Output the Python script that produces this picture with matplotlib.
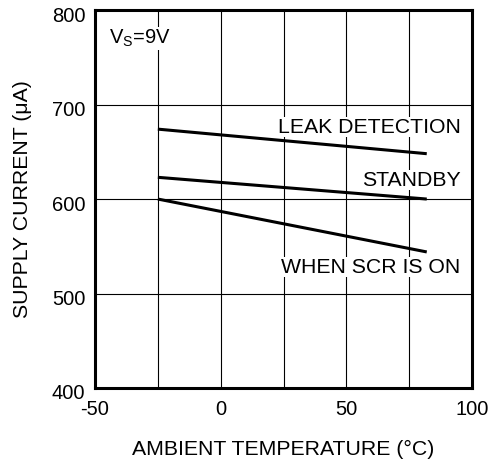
import matplotlib
matplotlib.use('Agg')
import matplotlib.pyplot as plt
from matplotlib.transforms import ScaledTranslation

plt.rcParams['font.family'] = ['Liberation Sans', 'DejaVu Sans']
plt.rcParams['axes.unicode_minus'] = False

temps = [-25, 82]
leak_detection = [674, 648]
standby = [623, 600]
scr_on = [600, 544]

fs = 14.5
fs_lab = 15.3

fig = plt.figure(figsize=(4.91, 4.59), dpi=100)
ax = fig.add_axes([0.1935, 0.1547, 0.7678, 0.8233])

ax.plot(temps, leak_detection, color='black', linewidth=2.2, solid_capstyle='butt')
ax.plot(temps, standby, color='black', linewidth=2.2, solid_capstyle='butt')
ax.plot(temps, scr_on, color='black', linewidth=2.2, solid_capstyle='butt')

ax.set_xlim(-50, 100)
ax.set_ylim(400, 800)
ax.set_xticks([-50, 0, 50, 100])
ax.set_yticks([400, 500, 600, 700, 800])

# grid lines every 25 degC and 100 uA
for xv in [-25, 0, 25, 50, 75]:
    ax.axvline(xv, color='black', linewidth=0.8, zorder=0)
for yv in [500, 600, 700]:
    ax.axhline(yv, color='black', linewidth=0.8, zorder=0)

for s in ax.spines.values():
    s.set_linewidth(2.2)
ax.tick_params(length=0, labelsize=fs)
ax.tick_params(axis='x', pad=9)
ax.tick_params(axis='y', pad=7)
# y tick labels sit a little low in the original
shift = ScaledTranslation(0, -4 / 100, fig.dpi_scale_trans)
for lbl in ax.get_yticklabels():
    lbl.set_transform(lbl.get_transform() + shift)

box = dict(facecolor='white', edgecolor='none', pad=0.5)
ax.text(95.5, 676, 'LEAK DETECTION', ha='right', va='center', fontsize=fs_lab, bbox=box)
ax.text(95.5, 620, 'STANDBY', ha='right', va='center', fontsize=fs_lab, bbox=box)
ax.text(95.5, 528, 'WHEN SCR IS ON', ha='right', va='center', fontsize=fs_lab, bbox=box)
ax.text(-44.5, 770, r'V$_\mathregular{S}$=9V', ha='left', va='center', fontsize=fs, bbox=box)

ax.set_xlabel('AMBIENT TEMPERATURE (°C)', fontsize=fs_lab, labelpad=15)
ax.set_ylabel('SUPPLY CURRENT (μA)', fontsize=fs_lab, labelpad=14)

fig.savefig('out.png', dpi=100)
